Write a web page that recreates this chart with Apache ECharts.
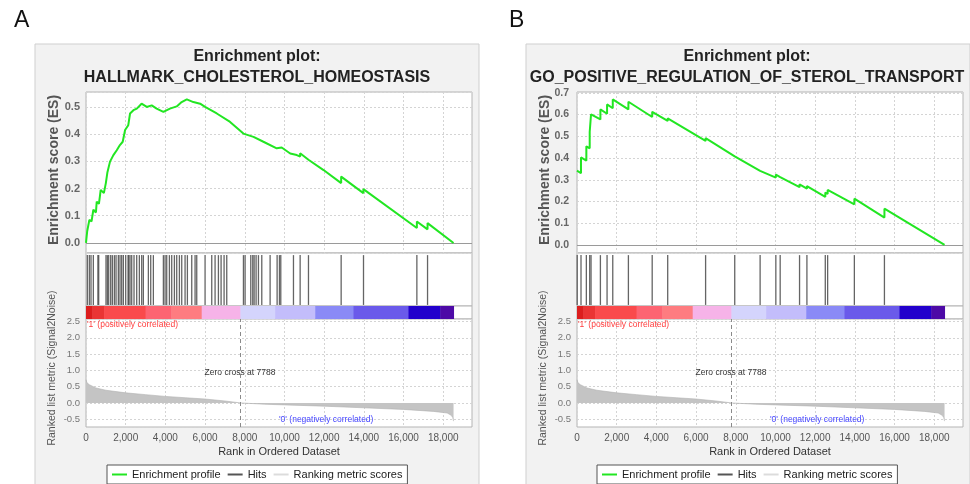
<!DOCTYPE html>
<html>
<head>
<meta charset="utf-8">
<script src="https://cdn.jsdelivr.net/npm/echarts@6/dist/echarts.min.js"></script>
<style>
  html, body { margin: 0; padding: 0; background: #fff; }
  #chart { width: 970px; height: 484px; }
</style>
</head>
<body>
<div id="chart"></div>
<script>
// ---- data ----
// panel A: running enrichment score (rank, ES)
const esRankA = [0, 30, 60, 170, 280, 370, 500, 540, 650, 700, 740, 900, 1000, 1080, 1210, 1290, 1380, 1550, 1710, 1850, 1970, 2130, 2220, 2390, 2560, 2800, 3060, 3310, 3560, 3900, 4230, 4570, 4820, 5080, 5410, 5750, 6000, 6590, 7260, 7930, 8440, 8940, 9610, 9860, 10290, 10620, 10790, 10790, 11210, 11210, 11970, 12857, 12857, 13976, 13976, 16672, 16672, 17210, 17210, 18520];
const esValA = [0, 0.0, 0.043, 0.085, 0.079, 0.122, 0.112, 0.152, 0.144, 0.171, 0.195, 0.183, 0.22, 0.26, 0.299, 0.299, 0.323, 0.341, 0.36, 0.372, 0.415, 0.433, 0.476, 0.488, 0.494, 0.512, 0.5, 0.506, 0.494, 0.482, 0.494, 0.502, 0.518, 0.528, 0.518, 0.512, 0.5, 0.476, 0.445, 0.402, 0.39, 0.372, 0.348, 0.351, 0.329, 0.323, 0.318, 0.33, 0.306, 0.312, 0.268, 0.22, 0.244, 0.183, 0.198, 0.055, 0.079, 0.05, 0.073, 0];
// panel A: hit positions (rank)
const hitsA = [67, 168, 252, 370, 600, 640, 1008, 1076, 1143, 1244, 1328, 1429, 1513, 1630, 1714, 1798, 1882, 2000, 2120, 2150, 2218, 2303, 2420, 2555, 2689, 2807, 2891, 3143, 3261, 3395, 3899, 3983, 4067, 4202, 4319, 4454, 4571, 4706, 4824, 4992, 5109, 5328, 5496, 5580, 6000, 6336, 6504, 6672, 6807, 6958, 7092, 7933, 8017, 8303, 8403, 8471, 8571, 8689, 8857, 9277, 9630, 9748, 9815, 10454, 10790, 11210, 12857, 13983, 16672, 17210];

// panel B: running enrichment score (rank, ES)
const esRankB = [0, 200, 200, 471, 471, 640, 640, 707, 707, 1179, 1179, 1515, 1515, 1802, 1802, 2590, 2590, 3789, 3789, 4570, 4570, 6480, 6480, 7948, 7948, 9227, 9227, 10019, 10019, 10238, 10238, 11214, 11214, 11585, 11585, 12511, 12511, 12629, 12629, 13976, 13976, 15491, 15491, 18520];
const esValB = [0.342, 0.33, 0.403, 0.388, 0.454, 0.445, 0.52, 0.516, 0.601, 0.578, 0.624, 0.604, 0.647, 0.629, 0.67, 0.624, 0.659, 0.589, 0.613, 0.571, 0.583, 0.479, 0.492, 0.408, 0.414, 0.341, 0.35, 0.31, 0.324, 0.312, 0.318, 0.266, 0.279, 0.259, 0.271, 0.221, 0.241, 0.235, 0.253, 0.187, 0.213, 0.126, 0.167, 0];
const hitsB = [10, 202, 471, 640, 707, 1179, 1515, 1802, 2590, 3789, 4570, 6480, 7948, 9227, 10019, 10238, 11214, 11585, 12511, 12629, 13976, 15491];

// ranked list metric (shared by both panels)
const metricRank = [0, 50, 170, 500, 1000, 2000, 3000, 4000, 5000, 6000, 7000, 7788, 9000, 10000, 12000, 14000, 16000, 17500, 18200, 18400, 18480, 18520];
const metricVal = [0.71, 0.62, 0.56, 0.46, 0.39, 0.31, 0.255, 0.2, 0.16, 0.12, 0.06, 0.0, -0.04, -0.06, -0.1, -0.15, -0.2, -0.26, -0.31, -0.38, -0.45, -0.56];
const zeroCross = 7788;

// colour bar bands (rank edges) and their level index
const bandEdges = [0, 320, 910, 3000, 4300, 5830, 7780, 9530, 11550, 13480, 16250, 17850, 18520];
const bandLevel = [0, 1, 2, 3, 4, 5, 6, 7, 8, 9, 10, 11];

const legendNames = ['Enrichment profile', 'Hits', 'Ranking metric scores'];

// ---- styles ----
const bandColors = ['#dc1e1e', '#ea3434', '#fa4a4c', '#fd6472', '#fe7c80', '#f6b3e8', '#d4d4fc', '#c3bdfb', '#8a8af6', '#6a5aea', '#2200cc', '#4d0aa6'];
const GREEN = '#22e622';
const FONT = '"Liberation Sans", Arial, sans-serif';
const X_MAX = 19450;
const PLOT_W = 386;

const panels = [
  { left: 86, frameX: 35, cx: 257, letter: 'A', letterX: 14, title: 'HALLMARK_CHOLESTEROL_HOMEOSTASIS',
    esRank: esRankA, esVal: esValA, hits: hitsA, esMin: -0.037, esMax: 0.555, esFont: 11, esMargin: 6 },
  { left: 577, frameX: 526, cx: 747, letter: 'B', letterX: 509, title: 'GO_POSITIVE_REGULATION_OF_STEROL_TRANSPORT',
    esRank: esRankB, esVal: esValB, hits: hitsB, esMin: -0.037, esMax: 0.704, esFont: 10.5, esMargin: 8 }
];

const zip = (a, b) => a.map((v, i) => [v, b[i]]);
const fmtRank = v => String(v).replace(/\B(?=(\d{3})+(?!\d))/g, ',');
const near = (v, step) => Math.abs(v / step - Math.round(v / step)) < 1e-6;

const grids = [], xAxes = [], yAxes = [], series = [], legends = [], graphics = [];

function xAx(gi, labels, split) {
  return {
    gridIndex: gi, type: 'value', min: 0, max: X_MAX, interval: 2000,
    axisLine: { show: false }, axisTick: { show: false },
    axisLabel: { show: labels, fontSize: 10, color: '#555', margin: 6,
      formatter: v => (v % 2000 === 0 ? fmtRank(v) : '') },
    splitLine: { show: split, lineStyle: { type: [2, 2], color: '#d4d4d4' } }
  };
}

function yHidden(gi) {
  return { gridIndex: gi, type: 'value', min: 0, max: 1, show: false };
}

panels.forEach((p, k) => {
  const g = k * 4;
  const box = { left: p.left, width: PLOT_W, show: true, backgroundColor: '#fff', borderColor: '#b4b4b4', borderWidth: 1 };
  grids.push(Object.assign({ top: 92, height: 161 }, box));
  grids.push(Object.assign({ top: 253, height: 53 }, box));
  grids.push(Object.assign({ top: 306, height: 13 }, box));
  grids.push(Object.assign({ top: 319, height: 108 }, box));

  xAxes.push(xAx(g, false, true), xAx(g + 1, false, false), xAx(g + 2, false, false), xAx(g + 3, true, true));

  yAxes.push({
    gridIndex: g, type: 'value', min: p.esMin, max: p.esMax, splitNumber: 6,
    axisLine: { show: false }, axisTick: { show: false },
    axisLabel: { fontSize: p.esFont, fontWeight: 'bold', color: '#666', margin: p.esMargin,
      formatter: v => (near(v, 0.1) ? v.toFixed(1) : '') },
    splitLine: { lineStyle: { type: [2, 2], color: '#d4d4d4' } }
  });
  yAxes.push(yHidden(g + 1), yHidden(g + 2));
  yAxes.push({
    gridIndex: g + 3, type: 'value', min: -0.74, max: 2.58, splitNumber: 6,
    axisLine: { show: false }, axisTick: { show: false },
    axisLabel: { fontSize: 9.5, color: '#777', margin: 6,
      formatter: v => (near(v, 0.5) ? v.toFixed(1) : '') },
    splitLine: { lineStyle: { type: [2, 2], color: '#d4d4d4' } }
  });

  series.push({
    type: 'line', name: 'Enrichment profile', xAxisIndex: g, yAxisIndex: g,
    data: zip(p.esRank, p.esVal), symbol: 'none', z: 5,
    lineStyle: { color: GREEN, width: 2 }, itemStyle: { color: GREEN },
    markLine: { silent: true, symbol: 'none', label: { show: false },
      lineStyle: { color: '#9a9a9a', type: 'solid', width: 1 }, data: [{ yAxis: 0 }] }
  });

  series.push({
    type: 'custom', name: 'Hits', xAxisIndex: g + 1, yAxisIndex: g + 1,
    data: p.hits.map(r => [r, 0.5]), itemStyle: { color: '#444' },
    renderItem: (params, api) => {
      const a = api.coord([api.value(0), 0.96]);
      const b = api.coord([api.value(0), 0.02]);
      return { type: 'line', shape: { x1: a[0], y1: a[1], x2: b[0], y2: b[1] },
        style: { stroke: '#4a4a4a', lineWidth: 1.3, opacity: 0.85 } };
    }
  });

  series.push({
    type: 'custom', xAxisIndex: g + 2, yAxisIndex: g + 2,
    data: bandLevel.map((lv, i) => [bandEdges[i], bandEdges[i + 1], lv]),
    encode: { x: [0, 1] },
    renderItem: (params, api) => {
      const a = api.coord([api.value(0), 1]);
      const b = api.coord([api.value(1), 0]);
      return { type: 'rect', shape: { x: a[0], y: a[1], width: b[0] - a[0] + 0.5, height: b[1] - a[1] },
        style: { fill: bandColors[api.value(2)] } };
    }
  });

  series.push({
    type: 'line', name: 'Ranking metric scores', xAxisIndex: g + 3, yAxisIndex: g + 3,
    data: zip(metricRank, metricVal), symbol: 'none',
    lineStyle: { color: '#b0b0b0', width: 0.6 }, itemStyle: { color: '#dedede' },
    areaStyle: { color: '#c4c4c4', opacity: 1, origin: 0 },
    markLine: { silent: true, symbol: 'none', label: { show: false },
      lineStyle: { color: '#8a8a8a', type: [4, 3], width: 1 }, data: [{ xAxis: zeroCross }] }
  });

  legends.push({
    left: p.cx - 150, top: 465, icon: 'rect', itemWidth: 15, itemHeight: 2, itemGap: 7,
    padding: [4, 5], backgroundColor: '#fff', borderColor: '#555', borderWidth: 1, borderRadius: 0,
    textStyle: { fontSize: 11, color: '#222', fontFamily: FONT },
    data: [
      { name: legendNames[0], itemStyle: { color: GREEN } },
      { name: legendNames[1], itemStyle: { color: '#555' } },
      { name: legendNames[2], itemStyle: { color: '#dcdcdc' } }
    ]
  });

  const dx = p.left - 86;
  const txt = (text, x, y, st, extra) => Object.assign({ type: 'text', x, y, z: 100,
    style: Object.assign({ text, fontFamily: FONT, align: 'center', verticalAlign: 'middle', fill: '#222' }, st) }, extra || {});

  graphics.push({ type: 'rect', z: -10, shape: { x: p.frameX, y: 44, width: 444, height: 460 },
    style: { fill: '#f2f2f2', stroke: '#cfcfcf', lineWidth: 1 } });
  graphics.push(txt(p.letter, p.letterX, 21, { fontSize: 23, align: 'left', fill: '#111' }));
  graphics.push(txt('Enrichment plot:', p.cx, 57, { fontSize: 16, fontWeight: 'bold' }));
  graphics.push(txt(p.title, p.cx, 78, { fontSize: 16, fontWeight: 'bold' }));
  graphics.push(txt('Enrichment score (ES)', 54 + dx, 170, { fontSize: 14, fontWeight: 'bold', fill: '#555' }, { rotation: Math.PI / 2 }));
  graphics.push(txt('Ranked list metric (Signal2Noise)', 52 + dx, 368, { fontSize: 10.5, fill: '#555' }, { rotation: Math.PI / 2 }));
  graphics.push(txt("'1' (positively correlated)", 87 + dx, 325, { fontSize: 8.5, align: 'left', fill: '#ff3c3c' }));
  graphics.push(txt('Zero cross at ' + zeroCross, 240 + dx, 373, { fontSize: 8.5, fill: '#333' }));
  graphics.push(txt("'0' (negatively correlated)", 279 + dx, 420, { fontSize: 8.5, align: 'left', fill: '#4646ff' }));
  graphics.push(txt('Rank in Ordered Dataset', 279 + dx, 452, { fontSize: 11, fill: '#333' }));
});

const chart = echarts.init(document.getElementById('chart'));
chart.setOption({
  animation: false,
  textStyle: { fontFamily: FONT },
  grid: grids,
  xAxis: xAxes,
  yAxis: yAxes,
  legend: legends,
  graphic: { elements: graphics },
  series: series
});
</script>
</body>
</html>
